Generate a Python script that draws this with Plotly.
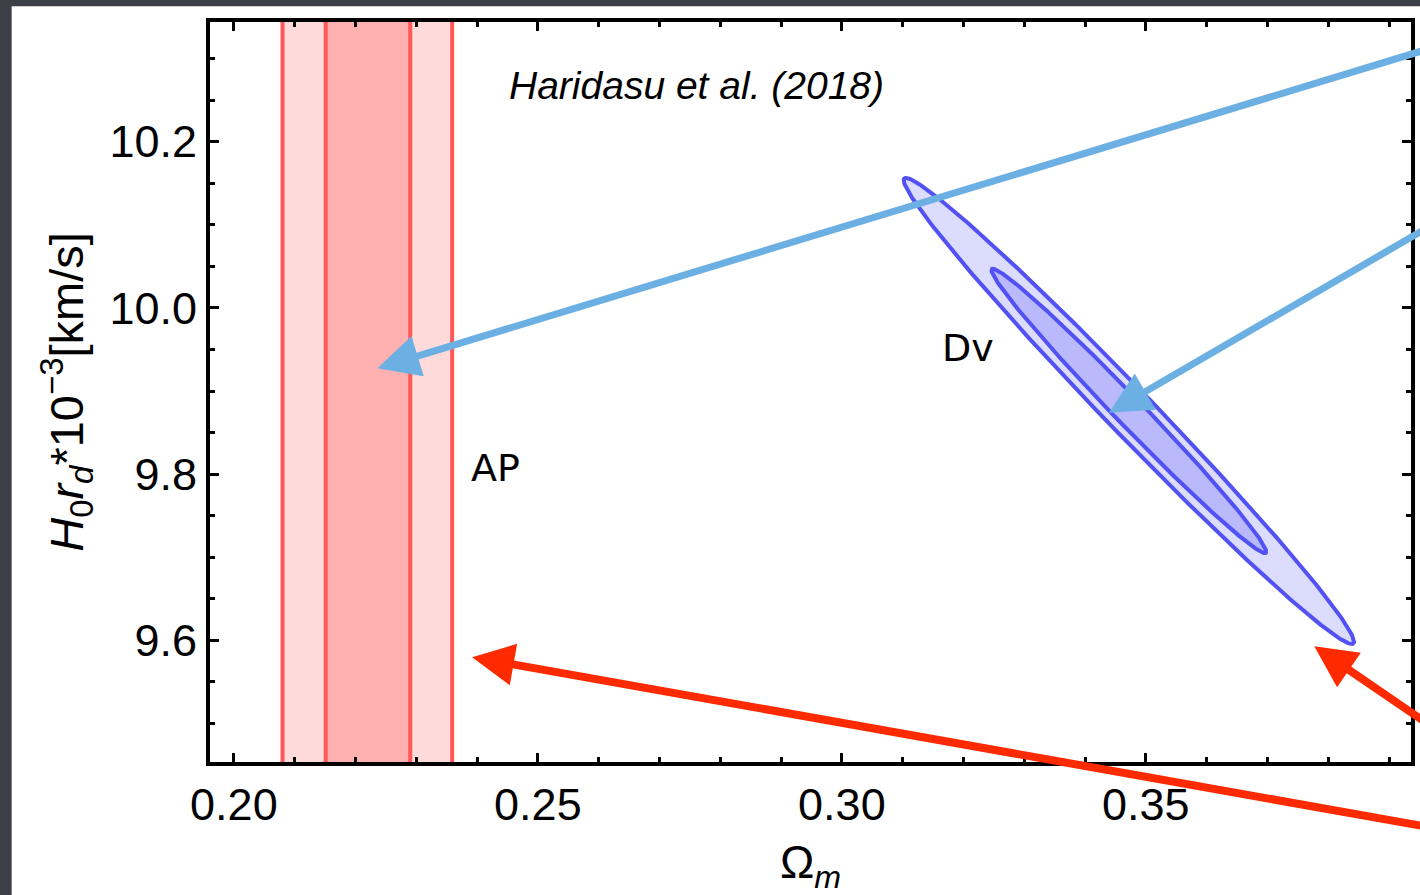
import numpy as np
import plotly.graph_objects as go

# ---- data -------------------------------------------------------------
# AP constraint on Omega_m: 1-sigma and 2-sigma intervals (vertical band)
ap_1sigma = [0.2151, 0.2290]
ap_2sigma = [0.2080, 0.2359]

# Dv constraint: Gaussian summary (mean, std devs, correlation)
dv_mean = [0.3472, 9.876]
dv_sigma = [0.01490, 0.1128]
dv_rho = -0.990
# delta chi^2 levels for the 68% and 95% 2-D confidence contours
contour_levels = [2.30, 6.18]

# axis ticks
x_ticks = [0.20, 0.25, 0.30, 0.35]
y_ticks = [9.6, 9.8, 10.0, 10.2]
x_range = [0.19607, 0.39361]
y_range = [9.4536, 10.3440]

# annotation arrows: head (x, y) and tail (x, y) in axis units
blue_arrows = [
    [(0.22361, 9.92738), (0.39770, 10.31429)],
    [(0.34393, 9.87381), (0.39770, 10.10238)],
]
red_arrows = [
    [(0.37770, 9.59286), (0.39770, 9.49286)],
    [(0.23918, 9.57976), (0.39770, 9.37381)],
]

# ---- figure -----------------------------------------------------------
W, H = 1420, 895
ML, MR, MT, MB = 210, 5, 22, 125
FONT = "Liberation Sans, Arial, sans-serif"

fig = go.Figure()


def ellipse(mean, sigma, rho, level, n=400):
    cov = np.array([[sigma[0] ** 2, rho * sigma[0] * sigma[1]],
                    [rho * sigma[0] * sigma[1], sigma[1] ** 2]])
    vals, vecs = np.linalg.eigh(cov)
    t = np.linspace(0, 2 * np.pi, n)
    circ = np.vstack([np.cos(t), np.sin(t)]) * np.sqrt(vals[:, None] * level)
    pts = vecs @ circ
    return mean[0] + pts[0], mean[1] + pts[1]


# Dv contours: 95% (light) then 68% (darker) on top
for level, fill in [(contour_levels[1], "#dcdcfe"), (contour_levels[0], "#b9b9fb")]:
    ex, ey = ellipse(dv_mean, dv_sigma, dv_rho, level)
    fig.add_trace(go.Scatter(
        x=ex, y=ey, mode="lines", fill="toself", fillcolor=fill,
        line=dict(color="#5252f4", width=4), hoverinfo="skip", showlegend=False,
    ))

# AP band: fills and boundary lines
shapes = []
for (lo, hi), fill in [(ap_2sigma, "#ffdada"), (ap_1sigma, "#ffb1b1")]:
    shapes.append(dict(type="rect", xref="x", yref="paper", x0=lo, x1=hi, y0=0, y1=1,
                       fillcolor=fill, line=dict(width=0), layer="below"))
for xv in ap_2sigma + ap_1sigma:
    shapes.append(dict(type="line", xref="x", yref="paper", x0=xv, x1=xv, y0=0, y1=1,
                       line=dict(color="#ff5858", width=4), layer="below"))


# white slide area on the dark background
def px_to_paper_x(p):
    return (p - ML) / (W - ML - MR)


def px_to_paper_y(p):
    return (H - MB - p) / (H - MT - MB)


shapes.insert(0, dict(type="rect", xref="paper", yref="paper",
                      x0=px_to_paper_x(11), x1=px_to_paper_x(1500),
                      y0=px_to_paper_y(1000), y1=px_to_paper_y(6),
                      fillcolor="white", line=dict(width=0), layer="below"))

annotations = []
for arrows, color, width, size in [(blue_arrows, "#6cb0e3", 7, 1.2),
                                   (red_arrows, "#ff2a00", 8, 1.05)]:
    for (hx, hy), (tx, ty) in arrows:
        annotations.append(dict(
            x=hx, y=hy, ax=tx, ay=ty, xref="x", yref="y", axref="x", ayref="y",
            showarrow=True, arrowhead=2, arrowsize=size, arrowwidth=width,
            arrowcolor=color, text="", standoff=0,
        ))

annotations += [
    dict(x=0.2761, y=10.268, xref="x", yref="y", text="<i>Haridasu et al. (2018)</i>",
         showarrow=False, font=dict(family=FONT, size=39, color="black")),
    dict(x=0.2431, y=9.807, xref="x", yref="y", text="AP", showarrow=False,
         font=dict(family="DejaVu Sans, sans-serif", size=38, color="black")),
    dict(x=0.3207, y=9.952, xref="x", yref="y", text="Dv", showarrow=False,
         font=dict(family="DejaVu Sans, sans-serif", size=38, color="black")),
]

axis_common = dict(
    showline=True, linecolor="black", linewidth=4, mirror="allticks",
    ticks="inside", ticklen=9, tickwidth=3, tickcolor="black",
    showgrid=False, zeroline=False,
    tickfont=dict(family=FONT, size=45, color="black"),
)

fig.update_layout(
    width=W, height=H,
    margin=dict(l=ML, r=MR, t=MT, b=MB),
    paper_bgcolor="#3c3f46", plot_bgcolor="white",
    shapes=shapes, annotations=annotations,
    xaxis=dict(
        range=x_range, tickvals=x_ticks, tickformat=".2f",
        minor=dict(dtick=0.01, tick0=0.2, ticks="inside", ticklen=5, tickwidth=2.5,
                   tickcolor="black", showgrid=False),
        title=dict(text="Ω<sub><i>m</i></sub>", standoff=28,
                   font=dict(family=FONT, size=46, color="black")),
        **axis_common,
    ),
    yaxis=dict(
        range=y_range, tickvals=y_ticks, tickformat=".1f",
        minor=dict(dtick=0.05, tick0=9.6, ticks="inside", ticklen=5, tickwidth=2.5,
                   tickcolor="black", showgrid=False),
        title=dict(text="<i>H</i><sub>0</sub><i>r<sub>d</sub></i>*10<sup>−3</sup>[km/s]",
                   standoff=12, font=dict(family=FONT, size=47, color="black")),
        **axis_common,
    ),
    showlegend=False,
)

fig.write_html("out.html")
